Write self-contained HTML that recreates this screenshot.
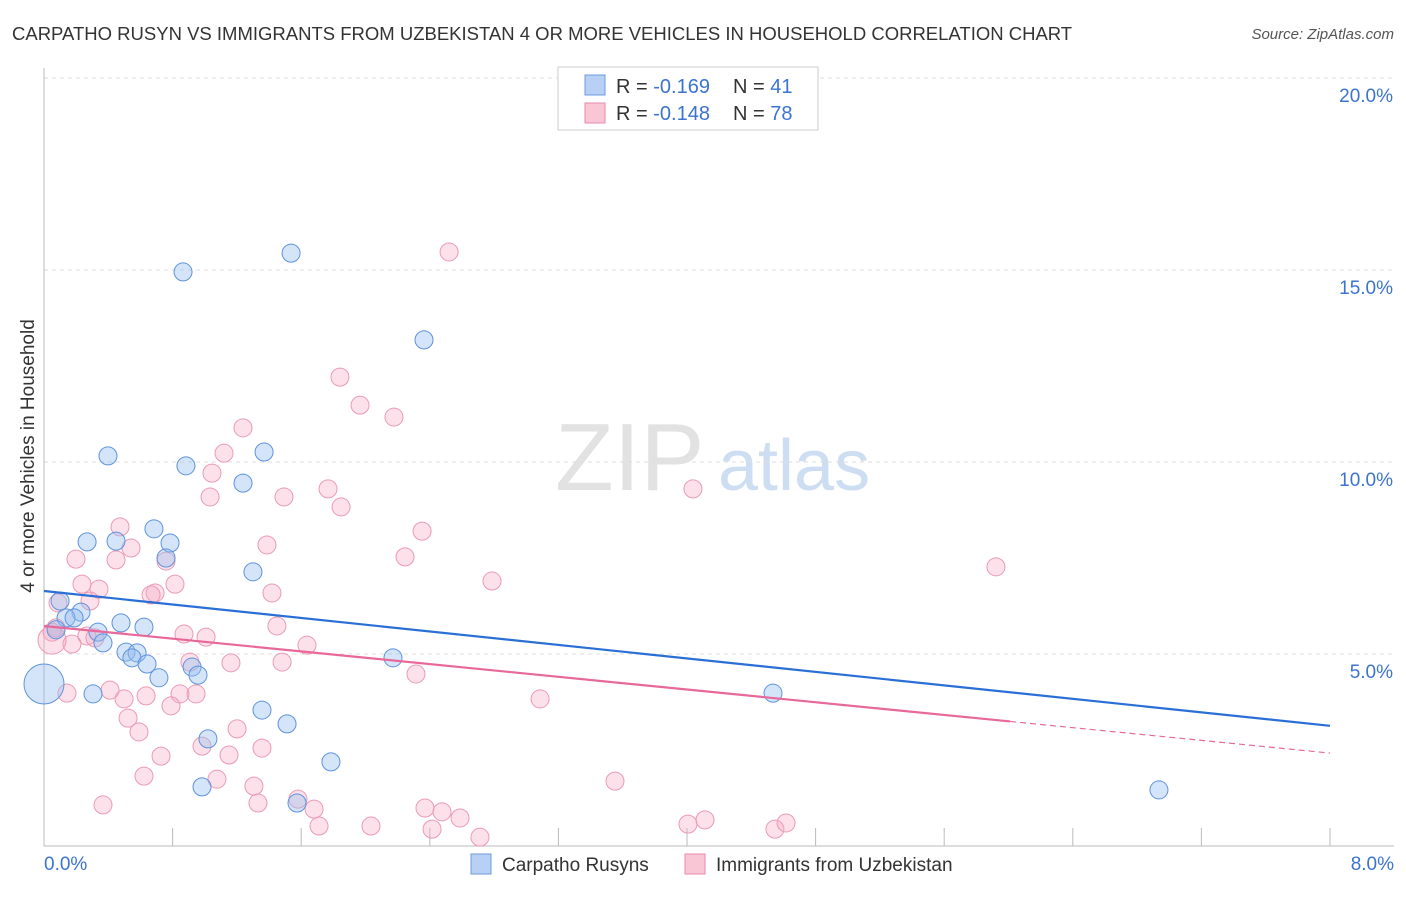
<!DOCTYPE html>
<html><head><meta charset="utf-8"><style>
body{margin:0;background:#fff;font-family:"Liberation Sans",sans-serif;}
svg text{font-family:"Liberation Sans",sans-serif;}
</style></head><body>
<svg id="chart" width="1406" height="892" viewBox="0 0 1406 892" xmlns="http://www.w3.org/2000/svg">
<text x="12" y="40" font-size="18.5" fill="#333">CARPATHO RUSYN VS IMMIGRANTS FROM UZBEKISTAN 4 OR MORE VEHICLES IN HOUSEHOLD CORRELATION CHART</text>
<text x="1394" y="39" font-size="15" fill="#555" text-anchor="end" font-style="italic">Source: ZipAtlas.com</text>
<g>
<text x="555" y="490" font-size="96" fill="#e2e2e2" font-family="Liberation Serif" >ZIP</text>
<text x="718" y="490" font-size="72" fill="#cddef3">atlas</text>
</g>
<g id="grid"></g>
<g id="axes"></g>
<g id="marks"></g>
<text transform="translate(34,456) rotate(-90)" font-size="19" fill="#333" text-anchor="middle">4 or more Vehicles in Household</text>
<g>
<rect x="558" y="67" width="260" height="63" fill="#fff" stroke="#ccc"/>
<rect x="585" y="75" width="20" height="20" fill="#b7d0f3" stroke="#6a9be0"/>
<text x="616" y="93" font-size="20" fill="#333">R = <tspan fill="#3b73d0">-0.169</tspan><tspan x="733">N = </tspan><tspan fill="#3b73d0">41</tspan></text>
<rect x="585" y="103" width="20" height="20" fill="#f9c6d6" stroke="#e88aa8"/>
<text x="616" y="120" font-size="20" fill="#333">R = <tspan fill="#3b73d0">-0.148</tspan><tspan x="733">N = </tspan><tspan fill="#3b73d0">78</tspan></text>
</g>
<g>
<rect x="471" y="854" width="20" height="20" fill="#b7d0f3" stroke="#6a9be0"/>
<text x="502" y="871" font-size="19" fill="#333">Carpatho Rusyns</text>
<rect x="685" y="854" width="20" height="20" fill="#f9c6d6" stroke="#e88aa8"/>
<text x="716" y="871" font-size="19" fill="#333">Immigrants from Uzbekistan</text>
</g>
</svg>
<script>
const yTicks=[5,10,15,20];
const yTickLabels=["5.0%","10.0%","15.0%","20.0%"];
const xTickLabels=["0.0%","8.0%"];
const blueX=[0.865,1.537,2.364,0.398,0.883,1.369,1.238,0.684,0.268,0.448,0.784,0.759,1.300,0.100,0.230,0.137,0.187,0.479,0.622,0.336,0.367,0.510,0.579,0.547,0.641,0.715,0.921,0.958,0.305,1.356,1.512,1.020,1.785,0.983,1.574,2.171,4.535,6.936,0.075,0.0];
const blueY=[14.95,15.44,13.18,10.16,9.90,10.26,9.45,8.26,7.92,7.94,7.89,7.50,7.14,6.38,6.09,5.94,5.94,5.81,5.70,5.57,5.29,5.05,5.03,4.90,4.74,4.38,4.66,4.45,3.96,3.54,3.18,2.79,2.19,1.54,1.12,4.90,3.98,1.46,5.63,4.22];
const blueR=[9,9,9,9,9,9,9,9,9,9,9,9,9,9,9,9,9,9,9,9,9,9,9,9,9,9,9,9,9,9,9,9,9,9,9,9,9,9,9,20];
const pinkX=[2.520,1.841,1.966,2.177,1.238,1.120,1.045,1.493,1.033,1.767,1.848,4.037,0.473,2.352,1.387,0.541,0.199,0.448,0.759,2.246,5.922,0.236,0.815,2.787,0.342,0.691,0.666,0.286,0.087,1.418,1.449,0.871,1.008,0.267,0.317,0.075,0.050,0.174,1.636,0.908,1.163,1.481,2.314,0.411,0.143,0.498,0.635,0.846,0.946,0.790,3.086,0.523,1.201,0.591,0.983,0.728,1.151,1.356,0.622,1.076,1.306,3.552,1.580,0.367,1.331,1.680,2.370,2.476,2.588,1.711,2.034,2.414,2.712,4.006,4.112,4.547,4.616,0.05];
const pinkY=[15.47,12.21,11.48,11.17,10.89,10.23,9.71,9.09,9.09,9.30,8.83,9.30,8.31,8.20,7.84,7.76,7.47,7.45,7.42,7.53,7.27,6.82,6.82,6.90,6.69,6.59,6.54,6.38,6.33,6.59,5.73,5.52,5.44,5.47,5.42,5.68,5.57,5.26,5.23,4.79,4.77,4.79,4.48,4.06,3.98,3.83,3.91,3.96,3.96,3.65,3.83,3.33,3.05,2.97,2.60,2.34,2.37,2.55,1.82,1.74,1.56,1.69,1.22,1.07,1.12,0.96,0.99,0.89,0.73,0.52,0.52,0.44,0.23,0.57,0.68,0.44,0.60,5.36];
const blueLine=[6.64,3.13];
const pinkLine=[5.73,2.42];
const pinkSolidEnd=6.01;
const X=v=>44+v*(1286/8), Y=v=>846-v*38.4;
const NS="http://www.w3.org/2000/svg";
function mk(parent,tag,attrs){const e=document.createElementNS(NS,tag);for(const k in attrs)e.setAttribute(k,attrs[k]);document.getElementById(parent).appendChild(e);return e;}
yTicks.forEach((t,i)=>{
 const g=mk('grid','line',{x1:44,x2:1394,y1:Y(t),y2:Y(t),stroke:'#ddd','stroke-dasharray':'4,4'});
 
 
 const l=mk('axes','text',{x:1393,y:Y(t)+24,'font-size':19,fill:'#3b73d0','text-anchor':'end'});
 l.textContent=yTickLabels[i];
 
 
});
const ax=mk('axes','line',{x1:44,x2:44,y1:68,y2:846,stroke:'#bbb'});


const bx=mk('axes','line',{x1:44,x2:1394,y1:846,y2:846,stroke:'#bbb'});


for(let i=0;i<=10;i++){
 const t=mk('axes','line',{x1:X(i*0.8),x2:X(i*0.8),y1:828,y2:846,stroke:'#bbb'});
 
 
}
[[0,'start',44],[8,'end',1394]].forEach((a,i)=>{
 const l=mk('axes','text',{x:a[2],y:870,'font-size':19,fill:'#3b73d0','text-anchor':a[1]});
 l.textContent=xTickLabels[i];
 
 
});
pinkX.forEach((x,i)=>{
 const c=mk('marks','circle',{cx:X(x),cy:Y(pinkY[i]),r:i==pinkX.length-1?14:9,fill:'rgba(245,170,195,0.35)',stroke:'#eb9ab4','stroke-width':1});
 
 
});
blueX.forEach((x,i)=>{
 const c=mk('marks','circle',{cx:X(x),cy:Y(blueY[i]),r:blueR[i],fill:'rgba(150,190,240,0.4)',stroke:'#5e93dd','stroke-width':1});
 
 
});
const bl=mk('marks','line',{x1:X(0),y1:Y(blueLine[0]),x2:X(8),y2:Y(blueLine[1]),stroke:'#2a6fd6','stroke-width':2.2});


const pyAt=v=>pinkLine[0]+(pinkLine[1]-pinkLine[0])*v/8;
const pl=mk('marks','line',{x1:X(0),y1:Y(pinkLine[0]),x2:X(pinkSolidEnd),y2:Y(pyAt(pinkSolidEnd)),stroke:'#e8689a','stroke-width':2.2});


const pd=mk('marks','line',{x1:X(pinkSolidEnd),y1:Y(pyAt(pinkSolidEnd)),x2:X(8),y2:Y(pinkLine[1]),stroke:'#e8689a','stroke-width':1.2,'stroke-dasharray':'6,4'});


</script>
</body></html>
